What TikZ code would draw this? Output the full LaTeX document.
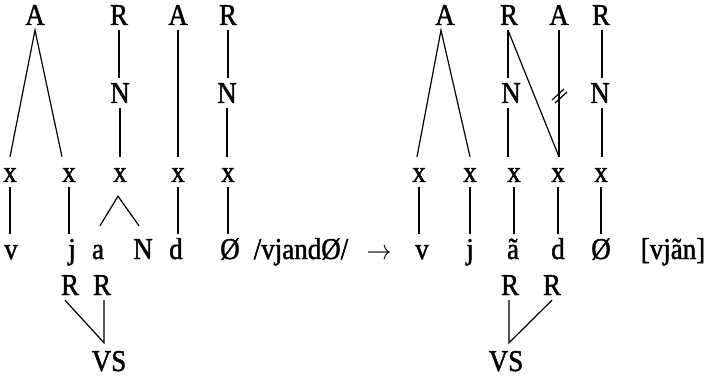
\documentclass[tikz,border=0pt]{standalone}
\usepackage{fontspec}
\setmainfont{Liberation Serif}
\usetikzlibrary{calc}
\font\tfont="Liberation Serif:embolden=1.5" at 27pt
\newcommand{\tx}[1]{\scalebox{1}[1.12]{#1}}
\tikzset{
  lab/.style={anchor=base, font={\fontsize{27}{30}\selectfont\tfont}, text height=20pt, text depth=0pt, inner xsep=0pt, inner ysep=5pt},
  ln/.style={line width=1.2pt}
}
\begin{document}
\begin{tikzpicture}[x=1pt,y=-1pt]
\fill[white] (0,0) rectangle (712,377);
\useasboundingbox (0,0) rectangle (712,377);
% ---------- left ----------
\node[lab] (A1) at (35,25) {\tx{A}};
\node[lab] (R1) at (119,25) {\tx{R}};
\node[lab] (A2) at (178,25) {\tx{A}};
\node[lab] (R2) at (228,25) {\tx{R}};
\node[lab] (N1) at (120,103) {\tx{N}};
\node[lab] (N2) at (227,103) {\tx{N}};
\node[lab] (x1) at (10,182) {\tx{x}};
\node[lab] (x2) at (69,182) {\tx{x}};
\node[lab] (x3) at (120,182) {\tx{x}};
\node[lab] (x4) at (178,182) {\tx{x}};
\node[lab] (x5) at (228,182) {\tx{x}};
\node[lab] (v1) at (11,259) {\tx{v}};
\node[lab] (j1) at (72,259) {\tx{j}};
\node[lab] (a1) at (98,259) {\tx{a}};
\node[lab] (n1) at (143,259) {\tx{N}};
\node[lab] (d1) at (176,259) {\tx{d}};
\node[lab] (o1) at (230,259) {\tx{Ø}};
\node[lab] (ur) at (301,259) {\tx{/vjandØ/}};
\node[lab] (arr) at (379,259) {\tx{$\rightarrow$}};
\node[lab] (Rl1) at (70,295) {\tx{R}};
\node[lab] (Rl2) at (102,295) {\tx{R}};
\node[lab] (VS1) at (109,371) {\tx{VS}};
\coordinate (ap1) at ($(VS1.north)+(-5,-3)$);
\coordinate (cp) at ($(x3.south)+(-2,9)$);

\draw[ln] (x1.north) -- (A1.south) -- ($(x2.north)+(-7,0)$);
\draw[ln] (R1.south) -- (R1.south |- N1.north);
\draw[ln] (N1.south) -- (N1.south |- x3.north);
\draw[ln] (A2.south) -- (A2.south |- x4.north);
\draw[ln] (R2.south) -- (R2.south |- N2.north);
\draw[ln] (N2.south) -- (N2.south |- x5.north);
\draw[ln] (x1.south) -- (x1.south |- v1.north);
\draw[ln] (x2.south) -- (x2.south |- j1.north);
\draw[ln] ($(a1.north)+(2,-8)$) -- (cp) -- ($(n1.north)+(-4,-8)$);
\draw[ln] (x4.south) -- (x4.south |- d1.north);
\draw[ln] (x5.south) -- (x5.south |- o1.north);
\draw[ln] ($(Rl1.south)+(-5,0)$) -- (ap1) -- (ap1 |- Rl2.south);

% ---------- right ----------
\node[lab] (A3) at (445,25) {\tx{A}};
\node[lab] (R3) at (509,25) {\tx{R}};
\node[lab] (A4) at (559,25) {\tx{A}};
\node[lab] (R4) at (601,25) {\tx{R}};
\node[lab] (N3) at (511,103) {\tx{N}};
\node[lab] (N4) at (600,103) {\tx{N}};
\node[lab] (y1) at (419,182) {\tx{x}};
\node[lab] (y2) at (470,182) {\tx{x}};
\node[lab] (y3) at (514,182) {\tx{x}};
\node[lab] (y4) at (558,182) {\tx{x}};
\node[lab] (y5) at (601,182) {\tx{x}};
\node[lab] (v2) at (422,259) {\tx{v}};
\node[lab] (j2) at (470,259) {\tx{j}};
\node[lab] (a2) at (513,259) {\tx{ã}};
\node[lab] (d2) at (558,259) {\tx{d}};
\node[lab] (o2) at (601,259) {\tx{Ø}};
\node[lab] (sr) at (673,259) {\tx{[vjãn]}};
\node[lab] (Rr1) at (510,295) {\tx{R}};
\node[lab] (Rr2) at (552,295) {\tx{R}};
\node[lab] (VS2) at (506,371) {\tx{VS}};
\coordinate (ap2) at ($(VS2.north)+(3,-3)$);
\coordinate (sl) at (559,95);

\draw[ln] ($(y1.north)+(-2,0)$) -- ($(A3.south)+(-4,0)$) -- (y2.north);
\draw[ln] ($(R3.south)+(-1,0)$) -- ($(R3.south |- N3.north)+(-1,0)$);
\draw[ln] ($(R3.south)+(-1,0)$) -- (y4.north -| A4.south);
\draw[ln] ($(N3.south)+(-3,0)$) -- ($(N3.south |- y3.north)+(-3,0)$);
\draw[ln] (A4.south) -- (A4.south |- y4.north);
\draw[ln] ($(sl)+(-7,5)$) -- ($(sl)+(5,-6)$);
\draw[ln] ($(sl)+(-4,8)$) -- ($(sl)+(8,-3)$);
\draw[ln] ($(R4.south)+(1,0)$) -- ($(R4.south |- N4.north)+(1,0)$);
\draw[ln] ($(N4.south)+(2,0)$) -- ($(N4.south |- y5.north)+(2,0)$);
\draw[ln] (y1.south) -- (y1.south |- v2.north);
\draw[ln] (y2.south) -- (y2.south |- j2.north);
\draw[ln] (y3.south) -- (y3.south |- a2.north);
\draw[ln] (y4.south) -- (y4.south |- d2.north);
\draw[ln] (y5.south) -- (y5.south |- o2.north);
\draw[ln] (ap2 |- Rr1.south) -- (ap2) -- (Rr2.south);
\end{tikzpicture}
\end{document}
